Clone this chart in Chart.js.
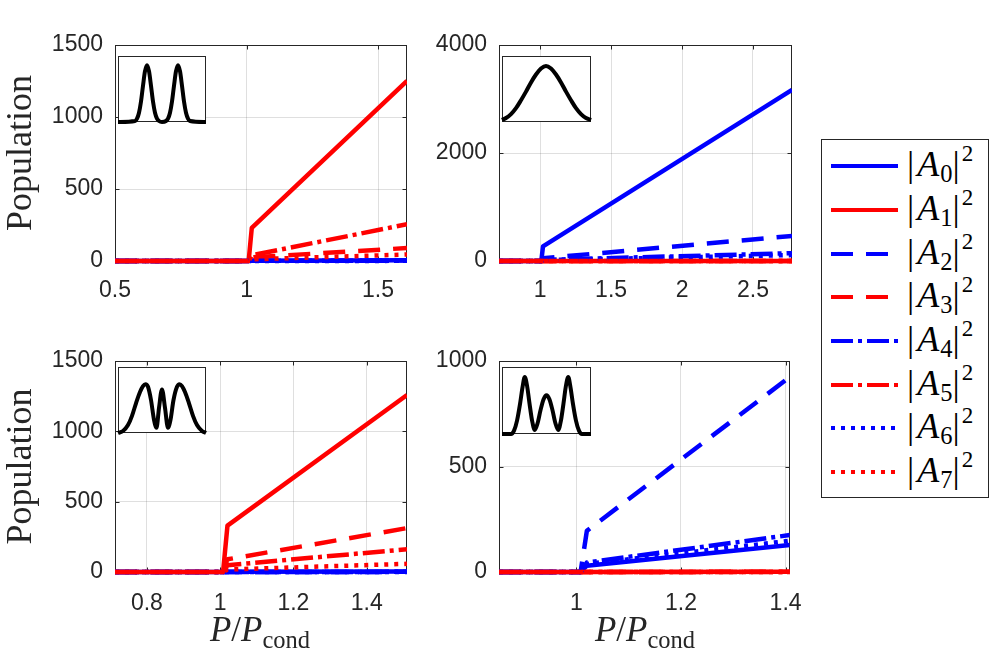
<!DOCTYPE html>
<html>
<head>
<meta charset="utf-8">
<script src="https://cdn.jsdelivr.net/npm/chart.js@4.4.1/dist/chart.umd.min.js"></script>
<style>
html, body { margin: 0; padding: 0; background: #fff; }
#fig { position: relative; width: 989px; height: 657px; overflow: hidden; background: #fff; }
#fig canvas { position: absolute; }
.inset { z-index: 2; }
.xlabel {
    position: absolute; font-family: "Liberation Serif", serif; font-size: 35px; line-height: 35px;
    color: #262626; white-space: nowrap; transform: translateX(-50%);
}
.xlabel sub { font-size: 70%; vertical-align: -0.3em; line-height: 0; }
#legend {
    position: absolute; left: 821px; top: 139px; width: 168px; height: 359px;
    box-sizing: border-box; border: 1px solid #262626; background: #fff; z-index: 3;
}
.lrow { position: absolute; left: 0; width: 100%; height: 40px; }
.lrow svg { position: absolute; left: 8px; top: 15px; }
.lrow .ltxt {
    position: absolute; left: 85px; top: 0px; font-family: "Liberation Serif", serif;
    font-size: 36px; line-height: 36px; color: #000; white-space: nowrap;
}
.ltxt i { margin: 0 1px 0 3px; }
.ltxt sub { font-size: 68%; vertical-align: -0.25em; line-height: 0; }
.ltxt sup { font-size: 64%; vertical-align: 0.65em; line-height: 0; margin-left: 2px; }
</style>
</head>
<body>
<div id="fig">
    <canvas id="pA" width="415" height="310" style="left:0;top:0;width:415px;height:310px"></canvas>
    <canvas id="pB" width="380" height="310" style="left:420px;top:0;width:380px;height:310px"></canvas>
    <canvas id="pC" width="415" height="337" style="left:0;top:320px;width:415px;height:337px"></canvas>
    <canvas id="pD" width="400" height="337" style="left:420px;top:320px;width:400px;height:337px"></canvas>

    <canvas id="iA" class="inset" width="100" height="78" style="left:112px;top:50px;width:100px;height:78px"></canvas>
    <canvas id="iB" class="inset" width="101" height="78" style="left:496px;top:50px;width:101px;height:78px"></canvas>
    <canvas id="iC" class="inset" width="100" height="78" style="left:112px;top:361px;width:100px;height:78px"></canvas>
    <canvas id="iD" class="inset" width="101" height="79" style="left:496px;top:361px;width:101px;height:79px"></canvas>

    <div class="xlabel" style="left:260px;top:612px"><i>P</i>/<i>P</i><sub>cond</sub></div>
    <div class="xlabel" style="left:645px;top:612px"><i>P</i>/<i>P</i><sub>cond</sub></div>

    <div id="legend"></div>
</div>
<script>
// series: mode populations |A_k|^2, k = 0..7
const modeIndex = [0, 1, 2, 3, 4, 5, 6, 7];
const seriesColors = ["#0000ff", "#ff0000", "#0000ff", "#ff0000", "#0000ff", "#ff0000", "#0000ff", "#ff0000"];
const seriesDash = [[], [], [22, 13], [22, 13], [22, 5, 4, 5], [22, 5, 4, 5], [4, 6], [4, 6]];

// top left panel (two-peak profile)
const xA = [0.5, 1.008, 1.02, 1.61];
const popA = [
    [0, 0, 2, 5],
    [0, 0, 230, 1250],
    [0, 0, 1, 3],
    [0, 0, 25, 90],
    [0, 0, 1, 2],
    [0, 0, 40, 255],
    [0, 0, 0, 1],
    [0, 0, 12, 45]
];
const xTicksA = [0.5, 1, 1.5];
const xLabelsA = ["0.5", "1", "1.5"];
const yTicksA = [0, 500, 1000, 1500];
const yLabelsA = ["0", "500", "1000", "1500"];

// top right panel (single peak)
const xB = [0.71, 1.008, 1.02, 2.775];
const popB = [
    [0, 0, 270, 3170],
    [0, 0, 0, 2],
    [0, 0, 50, 465],
    [0, 0, 0, 1],
    [0, 0, 20, 145],
    [0, 0, 0, 1],
    [0, 0, 15, 110],
    [0, 0, 0, 0]
];
const xTicksB = [1, 1.5, 2, 2.5];
const xLabelsB = ["1", "1.5", "2", "2.5"];
const yTicksB = [0, 2000, 4000];
const yLabelsB = ["0", "2000", "4000"];

// bottom left panel (three peaks, shallow middle)
const xC = [0.713, 1.008, 1.02, 1.51];
const popC = [
    [0, 0, 1, 3],
    [0, 0, 330, 1258],
    [0, 0, 0, 1],
    [0, 0, 90, 312],
    [0, 0, 0, 1],
    [0, 0, 48, 162],
    [0, 0, 0, 0],
    [0, 0, 18, 58]
];
const xTicksC = [0.8, 1, 1.2, 1.4];
const xLabelsC = ["0.8", "1", "1.2", "1.4"];
const yTicksC = [0, 500, 1000, 1500];
const yLabelsC = ["0", "500", "1000", "1500"];

// bottom right panel (three peaks, low middle)
const xD = [0.852, 1.008, 1.02, 1.408];
const popD = [
    [0, 0, 30, 128],
    [0, 0, 0, 1],
    [0, 0, 195, 924],
    [0, 0, 0, 1],
    [0, 0, 45, 175],
    [0, 0, 0, 0],
    [0, 0, 38, 148],
    [0, 0, 0, 0]
];
const xTicksD = [1, 1.2, 1.4];
const xLabelsD = ["1", "1.2", "1.4"];
const yTicksD = [0, 500, 1000];
const yLabelsD = ["0", "500", "1000"];

const insetXA = [0, 17, 19, 21, 23, 25, 27, 29, 31, 33, 35, 37, 39, 41, 44, 48, 50, 52, 54, 56, 58, 60, 62, 64, 66, 68, 70, 72, 88];
const insetYA = [0, 0.015, 0.05, 0.14, 0.31, 0.55, 0.77, 0.86, 0.77, 0.55, 0.31, 0.14, 0.05, 0.015, 0, 0.015, 0.05, 0.14, 0.31, 0.55, 0.77, 0.86, 0.77, 0.55, 0.31, 0.14, 0.05, 0.015, 0];
const insetXB = [0, 4, 9, 14, 19, 24, 29, 34, 39, 44, 49, 54, 59, 64, 69, 74, 79, 84, 89];
const insetYB = [0.03, 0.06, 0.12, 0.21, 0.33, 0.46, 0.6, 0.72, 0.81, 0.85, 0.81, 0.72, 0.6, 0.46, 0.33, 0.21, 0.12, 0.06, 0.03];
const insetXC = [0, 5, 10, 14, 18, 22, 25, 27.5, 30, 33, 36, 38.5, 41, 44, 47, 50, 52.5, 55.5, 59, 61.5, 64, 67, 71, 75, 79, 84, 88];
const insetYC = [0, 0.03, 0.12, 0.26, 0.45, 0.62, 0.71, 0.74, 0.7, 0.5, 0.2, 0.08, 0.38, 0.66, 0.38, 0.08, 0.2, 0.5, 0.7, 0.74, 0.71, 0.62, 0.45, 0.26, 0.12, 0.03, 0];
const insetXD = [0, 9, 12, 15, 18, 20.5, 22.7, 25, 27.5, 30, 32.7, 35.5, 38.5, 41.5, 44.4, 47.3, 50.3, 53.3, 56.1, 58.8, 61.3, 63.8, 66.1, 68.3, 70.8, 73.8, 76.8, 79.8, 88.8];
const insetYD = [0, 0, 0.05, 0.2, 0.45, 0.7, 0.85, 0.72, 0.45, 0.2, 0.06, 0.16, 0.36, 0.52, 0.58, 0.52, 0.36, 0.16, 0.06, 0.2, 0.45, 0.72, 0.85, 0.7, 0.45, 0.2, 0.05, 0, 0];

const axisColor = "#262626";
const gridColor = "rgba(38, 38, 38, 0.15)";
const tickFont = { family: "'Liberation Sans', Arial, sans-serif", size: 23 };

// MATLAB-like box with inward tick marks, drawn under the data
const axesBox = {
    id: "axesBox",
    beforeDatasetsDraw(chart) {
        const { ctx, chartArea: a, scales } = chart;
        const l = Math.round(a.left) + 0.5;
        const r = Math.round(a.right) - 0.5;
        const t = Math.round(a.top) + 0.5;
        const b = Math.round(a.bottom) - 0.5;
        ctx.save();
        ctx.strokeStyle = axisColor;
        ctx.lineWidth = 1;
        ctx.strokeRect(l, t, r - l, b - t);
        ctx.beginPath();
        scales.x.ticks.forEach((tk) => {
            const px = Math.round(scales.x.getPixelForValue(tk.value)) + 0.5;
            ctx.moveTo(px, b); ctx.lineTo(px, b - 4);
            ctx.moveTo(px, t); ctx.lineTo(px, t + 4);
        });
        scales.y.ticks.forEach((tk) => {
            const py = Math.round(scales.y.getPixelForValue(tk.value)) + 0.5;
            ctx.moveTo(l, py); ctx.lineTo(l + 4, py);
            ctx.moveTo(r, py); ctx.lineTo(r - 4, py);
        });
        ctx.stroke();
        ctx.restore();
    }
};

function makePanel(id, p) {
    return new Chart(document.getElementById(id), {
        type: "line",
        data: {
            datasets: p.pop.map((vals, i) => ({
                label: "|A" + modeIndex[i] + "|^2",
                data: p.x.map((x, j) => ({ x: x, y: vals[j] })),
                borderColor: seriesColors[i],
                borderDash: seriesDash[i],
                borderWidth: 4.5,
                borderCapStyle: "butt",
                borderJoinStyle: "round",
                pointRadius: 0,
                tension: 0,
                fill: false,
                clip: { left: 0, top: 3, right: 0, bottom: 4 },
                order: 7 - i
            }))
        },
        options: {
            responsive: false,
            animation: false,
            devicePixelRatio: 1,
            events: [],
            layout: { padding: { top: p.padTop, right: p.padRight, left: 0, bottom: 0 } },
            plugins: { legend: { display: false }, tooltip: { enabled: false } },
            scales: {
                x: {
                    type: "linear",
                    min: p.x[0],
                    max: p.x[p.x.length - 1],
                    afterBuildTicks: (s) => { s.ticks = p.xTicks.map((v) => ({ value: v })); },
                    afterFit: (s) => { s.height = p.xAxisH; },
                    ticks: {
                        callback: (v, i) => p.xLabels[i],
                        font: tickFont,
                        color: axisColor,
                        padding: p.xPad,
                        maxRotation: 0,
                        autoSkip: false
                    },
                    grid: { color: gridColor, drawTicks: false },
                    border: { display: false }
                },
                y: {
                    type: "linear",
                    min: p.yTicks[0],
                    max: p.yTicks[p.yTicks.length - 1],
                    afterBuildTicks: (s) => { s.ticks = p.yTicks.map((v) => ({ value: v })); },
                    afterFit: (s) => { s.width = p.yAxisW; },
                    ticks: {
                        callback: (v, i) => p.yLabels[i],
                        font: tickFont,
                        color: axisColor,
                        padding: 12,
                        autoSkip: false
                    },
                    grid: { color: gridColor, drawTicks: false },
                    border: { display: false },
                    title: {
                        display: p.yTitle,
                        text: "Population",
                        color: axisColor,
                        font: { family: "'Liberation Serif', serif", size: 36 },
                        padding: { top: 0, bottom: 0 }
                    }
                }
            }
        },
        plugins: [axesBox]
    });
}

const insetFrame = {
    id: "insetFrame",
    beforeDraw(chart) {
        const { ctx, chartArea: a } = chart;
        ctx.save();
        ctx.fillStyle = "#fff";
        ctx.fillRect(a.left, a.top, a.right - a.left, a.bottom - a.top);
        ctx.restore();
    },
    beforeDatasetsDraw(chart) {
        const { ctx, chartArea: a } = chart;
        ctx.save();
        ctx.strokeStyle = axisColor;
        ctx.lineWidth = 1;
        ctx.strokeRect(Math.round(a.left) + 0.5, Math.round(a.top) + 0.5,
            Math.round(a.right - a.left) - 1, Math.round(a.bottom - a.top) - 1);
        ctx.restore();
    }
};

function makeInset(id, xs, ys) {
    return new Chart(document.getElementById(id), {
        type: "line",
        data: {
            datasets: [{
                data: xs.map((x, j) => ({ x: x, y: ys[j] })),
                borderColor: "#000",
                borderWidth: 4,
                pointRadius: 0,
                cubicInterpolationMode: "monotone",
                fill: false,
                clip: false
            }]
        },
        options: {
            responsive: false,
            animation: false,
            devicePixelRatio: 1,
            events: [],
            layout: { padding: 6 },
            plugins: { legend: { display: false }, tooltip: { enabled: false } },
            scales: {
                x: { type: "linear", min: xs[0], max: xs[xs.length - 1], display: false },
                y: { type: "linear", min: 0, max: 1, display: false }
            }
        },
        plugins: [insetFrame]
    });
}

makePanel("pA", { x: xA, pop: popA, xTicks: xTicksA, xLabels: xLabelsA, yTicks: yTicksA, yLabels: yLabelsA,
    padTop: 45, padRight: 8, yAxisW: 115, xAxisH: 49, xPad: 16, yTitle: true });
makePanel("pB", { x: xB, pop: popB, xTicks: xTicksB, xLabels: xLabelsB, yTicks: yTicksB, yLabels: yLabelsB,
    padTop: 45, padRight: 8, yAxisW: 79, xAxisH: 49, xPad: 16, yTitle: false });
makePanel("pC", { x: xC, pop: popC, xTicks: xTicksC, xLabels: xLabelsC, yTicks: yTicksC, yLabels: yLabelsC,
    padTop: 41, padRight: 8, yAxisW: 115, xAxisH: 85, xPad: 18, yTitle: true });
makePanel("pD", { x: xD, pop: popD, xTicks: xTicksD, xLabels: xLabelsD, yTicks: yTicksD, yLabels: yLabelsD,
    padTop: 41, padRight: 30, yAxisW: 79, xAxisH: 85, xPad: 18, yTitle: false });

makeInset("iA", insetXA, insetYA);
makeInset("iB", insetXB, insetYB);
makeInset("iC", insetXC, insetYC);
makeInset("iD", insetXD, insetYD);

// legend
const legend = document.getElementById("legend");
const rowCenters = [166, 210, 254, 297, 341, 385, 428, 472];
modeIndex.forEach((k, i) => {
    const row = document.createElement("div");
    row.className = "lrow";
    row.style.top = (rowCenters[i] - 140 - 20) + "px";
    const dash = seriesDash[i].length ? ' stroke-dasharray="' + seriesDash[i].join(" ") + '"' : "";
    row.innerHTML =
        '<svg width="70" height="10"><line x1="1" y1="5" x2="68" y2="5" stroke="' + seriesColors[i] +
        '" stroke-width="4"' + dash + '/></svg>' +
        '<span class="ltxt">|<i>A</i><sub>' + k + '</sub>|<sup>2</sup></span>';
    legend.appendChild(row);
});
</script>
</body>
</html>
